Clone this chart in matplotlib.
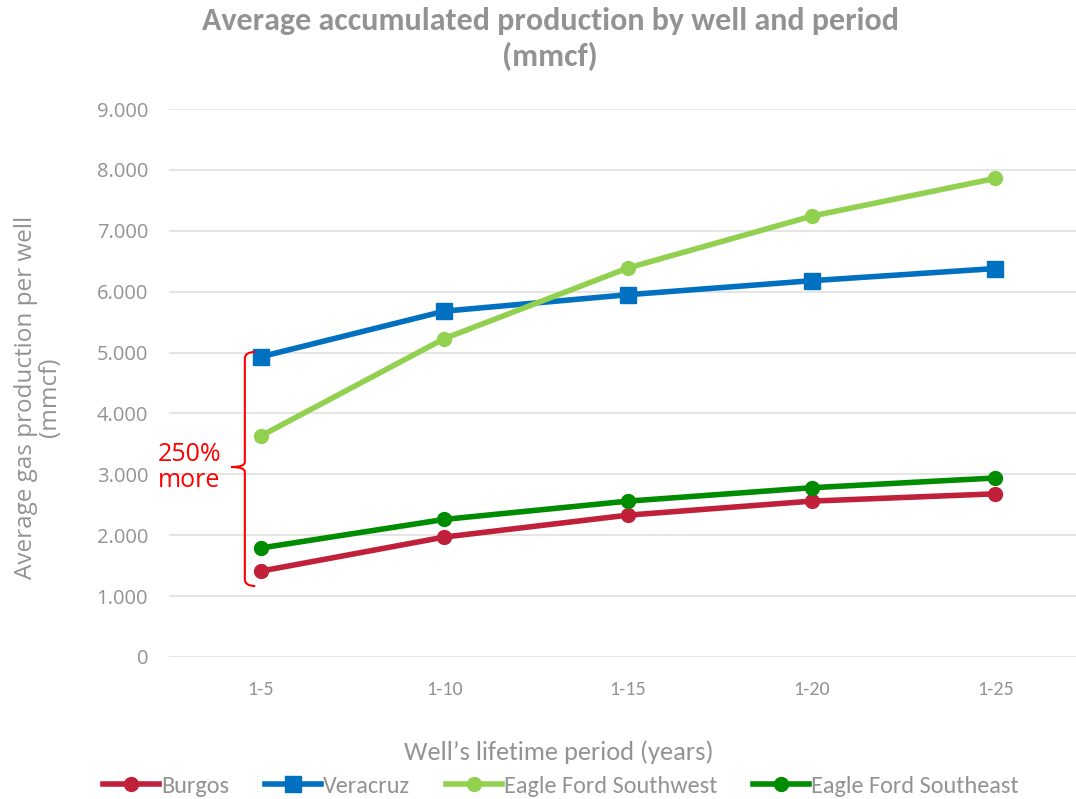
import numpy as np
import matplotlib.pyplot as plt
from matplotlib.path import Path
from matplotlib.patches import PathPatch

# data
periods = ['1-5', '1-10', '1-15', '1-20', '1-25']
burgos = [1410, 1970, 2330, 2560, 2680]
veracruz = [4930, 5680, 5950, 6180, 6380]
ef_southwest = [3630, 5230, 6390, 7240, 7860]
ef_southeast = [1790, 2260, 2560, 2780, 2940]

narrow = 'Carlito'
wide = 'Open Sans'
grey = '#939393'

fig = plt.figure(figsize=(10.76, 7.99), dpi=100)
ax = fig.add_axes([169 / 1076, 1 - 657 / 799, 1 - 169 / 1076, 548 / 799])

x = np.arange(len(periods))
ax.plot(x, burgos, color='#c0203a', lw=4, marker='o', ms=10, label='Burgos', zorder=3)
ax.plot(x, veracruz, color='#0070c0', lw=4, marker='s', ms=11, label='Veracruz', zorder=3)
ax.plot(x, ef_southwest, color='#92d050', lw=4, marker='o', ms=10,
        label='Eagle Ford Southwest', zorder=3)
ax.plot(x, ef_southeast, color='#008c00', lw=4, marker='o', ms=10,
        label='Eagle Ford Southeast', zorder=3)

ax.set_xlim(-0.5, 4.44)
ax.set_ylim(0, 9000)
ax.set_yticks(np.arange(0, 9001, 1000))
ax.set_yticklabels(['0'] + [f'{v // 1000}.000' for v in range(1000, 9001, 1000)],
                   fontfamily=wide, fontsize=14.5, color=grey)
ax.set_xticks(x)
ax.set_xticklabels(periods, fontfamily=narrow, fontsize=14.5, color=grey)
ax.tick_params(axis='y', length=0, pad=15)
ax.tick_params(axis='x', length=0, pad=17)
ax.grid(axis='y', color='#e3e3e3', lw=1.3)
ax.set_axisbelow(True)
for s in ax.spines.values():
    s.set_visible(False)

ax.set_xlabel('Well’s lifetime period (years)', fontfamily=narrow, fontsize=19, color=grey)
ax.xaxis.set_label_coords((559 - 169) / 907, (657 - 740) / 548)

fig.text(38 / 1076, 1 - 397 / 799, 'Average gas production per well\n(mmcf)',
         rotation=90, ha='center', va='center', fontfamily=wide, fontsize=17.5,
         color=grey, linespacing=1.05)

fig.text(550 / 1076, 1 - 21 / 799, 'Average accumulated production by well and period',
         ha='center', va='center', fontfamily=narrow, fontweight='bold',
         fontsize=23, color=grey)
fig.text(550 / 1076, 1 - 57 / 799, '(mmcf)',
         ha='center', va='center', fontfamily=narrow, fontweight='bold',
         fontsize=23, color=grey)

# curly bracket
xl, xh, xt = -0.087, -0.03, -0.16
top, bot, mid = 5010, 1166, 3120
verts = [(xh, top), (xl, top), (xl, top - 110),
         (xl, mid + 80), (xl, mid), (xt, mid),
         (xl, mid), (xl, mid - 80),
         (xl, bot + 110), (xl, bot), (xh, bot)]
codes = [Path.MOVETO, Path.CURVE3, Path.CURVE3,
         Path.LINETO, Path.CURVE3, Path.CURVE3,
         Path.CURVE3, Path.CURVE3,
         Path.LINETO, Path.CURVE3, Path.CURVE3]
ax.add_patch(PathPatch(Path(verts, codes), fill=False, edgecolor='red', lw=1.5,
                       clip_on=False, zorder=4))
ax.text(-0.56, mid, '250%\nmore', color='red', fontfamily=wide, fontsize=18,
        ha='left', va='center', linespacing=1.05, clip_on=False)

fig.legend(loc='center', bbox_to_anchor=(561 / 1076, 1 - 786 / 799), ncol=4, frameon=False,
           prop={'family': narrow, 'size': 17.5}, labelcolor=grey, handlelength=2.3,
           handletextpad=0.1, columnspacing=1.45, borderaxespad=0, borderpad=0)

fig.savefig('out.png', dpi=100)
